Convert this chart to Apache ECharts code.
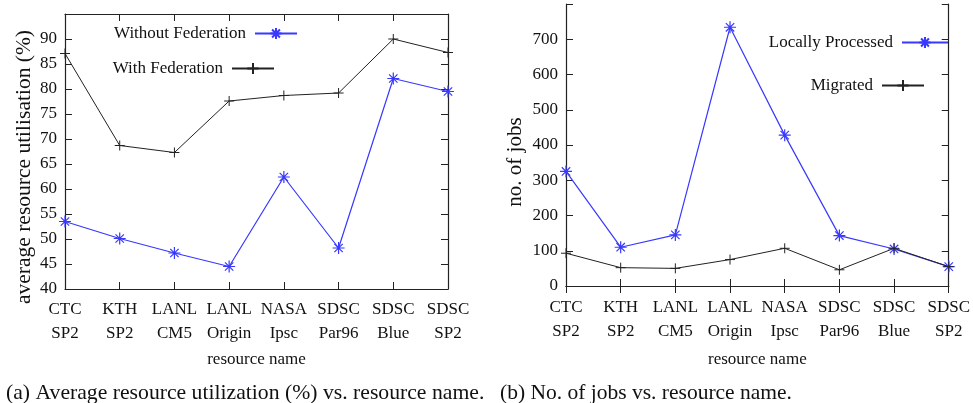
<!DOCTYPE html>
<html>
<head>
<meta charset="utf-8">
<script src="https://cdn.jsdelivr.net/npm/echarts@6/dist/echarts.min.js"></script>
<style>
html,body{margin:0;padding:0;background:#fff;}
#c{width:973px;height:403px;}
</style>
</head>
<body>
<div id="c"></div>
<script>
// ---- data ----
var categories = ['CTC\nSP2', 'KTH\nSP2', 'LANL\nCM5', 'LANL\nOrigin', 'NASA\nIpsc', 'SDSC\nPar96', 'SDSC\nBlue', 'SDSC\nSP2'];
var withoutFederation = [53.5, 50.1, 47.2, 44.5, 62.4, 48.2, 82.1, 79.5];
var withFederation = [87.1, 68.7, 67.3, 77.6, 78.7, 79.2, 90.0, 87.3];
var locallyProcessed = [325, 110, 145, 734, 428, 143, 105, 55];
var migrated = [93, 52, 50, 75, 107, 46, 107, 55];
var utilTicks = {min: 40, max: 95, interval: 5};
var jobsTicks = {min: 0, max: 800, interval: 100};
var captionA = '(a) Average resource utilization (%) vs. resource name.';
var captionB = '(b) No. of jobs vs. resource name.';

// ---- styles ----
var FONT = '"Liberation Serif", "Times New Roman", serif';
var BLUE = '#3838ff';
var BLACK = '#222222';
var STAR = 'path://M0,5L10,5M5,0L5,10M1.5,1.5L8.5,8.5M8.5,1.5L1.5,8.5';
var PLUS = 'path://M0,5L10,5M5,0L5,10';
var txt = {fontFamily: FONT, fontSize: 17, color: '#111'};

function xAxes(gridIndex, labelMargin, nameGap) {
  return [{
    type: 'category', gridIndex: gridIndex, data: categories, boundaryGap: false,
    axisLine: {lineStyle: {color: BLACK, width: 1.2}},
    axisTick: {inside: true, length: 7, lineStyle: {color: BLACK}},
    axisLabel: Object.assign({margin: labelMargin, lineHeight: 24, interval: 0}, txt),
    name: 'resource name', nameLocation: 'middle', nameGap: nameGap,
    nameTextStyle: txt
  }, {
    type: 'category', gridIndex: gridIndex, data: categories, boundaryGap: false, position: 'top',
    axisLine: {lineStyle: {color: BLACK, width: 1.2}},
    axisTick: {inside: true, length: 7, lineStyle: {color: BLACK}},
    axisLabel: {show: false}
  }];
}
function yAxes(gridIndex, t) {
  return [{
    type: 'value', gridIndex: gridIndex, min: t.min, max: t.max, interval: t.interval,
    axisLine: {show: true, lineStyle: {color: BLACK, width: 1.2}},
    axisTick: {show: true, inside: true, length: 7, lineStyle: {color: BLACK}},
    splitLine: {show: false},
    axisLabel: Object.assign({margin: 8, formatter: function (v) { return v === t.max ? '' : String(v); }}, txt)
  }, {
    type: 'value', gridIndex: gridIndex, min: t.min, max: t.max, interval: t.interval, position: 'right',
    axisLine: {show: true, lineStyle: {color: BLACK, width: 1.2}},
    axisTick: {show: true, inside: true, length: 7, lineStyle: {color: BLACK}},
    splitLine: {show: false},
    axisLabel: {show: false}
  }];
}
function starSeries(name, data, xi, yi) {
  return {
    name: name, type: 'line', data: data, xAxisIndex: xi, yAxisIndex: yi,
    symbol: STAR, symbolSize: 12, showAllSymbol: true,
    lineStyle: {color: BLUE, width: 1.2},
    itemStyle: {color: BLUE, borderColor: BLUE, borderWidth: 1.2},
    emphasis: {disabled: true}, animation: false
  };
}
function plusSeries(name, data, xi, yi) {
  return {
    name: name, type: 'line', data: data, xAxisIndex: xi, yAxisIndex: yi,
    symbol: PLUS, symbolSize: 10, showAllSymbol: true,
    lineStyle: {color: BLACK, width: 1},
    itemStyle: {color: BLACK, borderColor: BLACK, borderWidth: 1},
    emphasis: {disabled: true}, animation: false
  };
}
function legend(name, right, top, w) {
  return {
    data: [name], right: right, top: top, align: 'right', padding: 0,
    itemWidth: w, itemHeight: 14, selectedMode: false,
    textStyle: Object.assign({padding: [0, 4, 0, 0]}, txt)
  };
}

var chart = echarts.init(document.getElementById('c'), null, {renderer: 'canvas'});
chart.setOption({
  animation: false,
  backgroundColor: '#ffffff',
  grid: [
    {left: 65, right: 525, top: 14, bottom: 114},
    {left: 566, right: 24, top: 4, bottom: 117}
  ],
  xAxis: xAxes(0, 9, 62).concat(xAxes(1, 10, 65)),
  yAxis: yAxes(0, utilTicks).concat(yAxes(1, jobsTicks)),
  legend: [
    legend('Without Federation', 675, 25, 42),
    legend('With Federation', 698, 60, 42),
    legend('Locally Processed', 24, 34, 46),
    legend('Migrated', 48, 77, 42)
  ],
  series: [
    starSeries('Without Federation', withoutFederation, 0, 0),
    plusSeries('With Federation', withFederation, 0, 0),
    starSeries('Locally Processed', locallyProcessed, 2, 2),
    plusSeries('Migrated', migrated, 2, 2)
  ],
  graphic: [
    {type: 'text', x: 24, y: 167, rotation: Math.PI / 2,
     style: {text: 'average resource utilisation (%)', font: '21.5px ' + FONT, fill: '#111', align: 'center', verticalAlign: 'middle'}},
    {type: 'text', x: 515, y: 162, rotation: Math.PI / 2,
     style: {text: 'no. of jobs', font: '21px ' + FONT, fill: '#111', align: 'center', verticalAlign: 'middle'}},
    {type: 'text', x: 6, y: 393,
     style: {text: captionA, font: '21.7px ' + FONT, fill: '#111', align: 'left', verticalAlign: 'middle'}},
    {type: 'text', x: 500, y: 393,
     style: {text: captionB, font: '21.5px ' + FONT, fill: '#111', align: 'left', verticalAlign: 'middle'}}
  ]
});
</script>
</body>
</html>
